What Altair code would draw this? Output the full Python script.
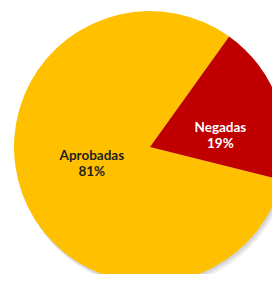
import altair as alt
import pandas as pd
import math

categories = ["Aprobadas", "Negadas"]
values = [81, 19]
labels = [["Aprobadas", "81%"], ["Negadas", "19%"]]
colors = ["#FFC000", "#C00000"]

df = pd.DataFrame({"cat": categories, "val": values, "order": [0, 1], "label": labels})

R = 136
CX, CY = 142, 139
start = math.radians(104)

theta_scale = alt.Scale(domain=[0, 100], range=[start, start + 2 * math.pi])

shadows = []
for ox, oy in [(1, 2), (2, 3), (3, 5)]:
    shadows.append(
        alt.Chart(df.iloc[[0]]).mark_arc(
            radius=R, theta=0, theta2=2 * math.pi, color="#808080", opacity=0.13
        ).encode(x=alt.value(CX + ox), y=alt.value(CY + oy))
    )

base = alt.Chart(df)

pie = base.mark_arc(radius=R).encode(
    theta=alt.Theta("val:Q", stack=True, scale=theta_scale),
    color=alt.Color("cat:N", scale=alt.Scale(domain=categories, range=colors), legend=None),
    order=alt.Order("order:Q"),
    x=alt.value(CX),
    y=alt.value(CY),
)

lbl = base.transform_window(
    cum="sum(val)", sort=[alt.SortField("order")], frame=[None, 0]
).transform_calculate(mid="datum.cum - datum.val / 2")


def label_layer(cat, radius, dy, color):
    return lbl.transform_filter(alt.datum.cat == cat).mark_text(
        radius=radius, dy=dy, color=color,
        font="Lato", fontWeight="bold", fontSize=13.5,
        lineHeight=16, baseline="middle", align="center",
    ).encode(
        theta=alt.Theta("mid:Q", stack=None, scale=theta_scale),
        text="label",
        x=alt.value(CX),
        y=alt.value(CY),
    )


text_a = label_layer("Aprobadas", 62, -12, "#1f1f1f")
text_n = label_layer("Negadas", 75, 7, "#ffffff")

chart = alt.layer(*shadows, pie, text_a, text_n).properties(
    width=264, height=266, padding=0, autosize="none"
).configure_view(stroke=None)

chart.save("out.html", embed_options={"renderer": "svg", "actions": False})
